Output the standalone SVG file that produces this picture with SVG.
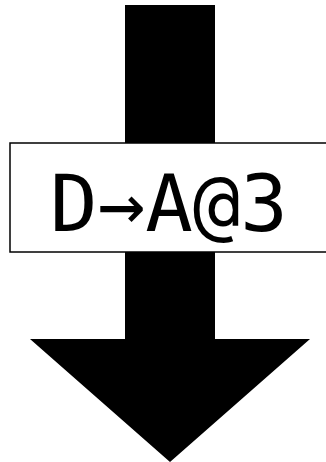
<svg xmlns="http://www.w3.org/2000/svg" width="326" height="462" viewBox="0 0 326 462">
<style>
.arrow{fill:#000;stroke:none}
.box{fill:#fff;stroke:#000;stroke-width:1.5}
.lbl{font-family:"DejaVu Sans Mono",monospace;font-size:79px;fill:#000}
</style>
<rect width="326" height="462" fill="#fff"/>
<g id="connectors">
<path class="arrow" d="M125,5 H215 V339 H310 L170,462 L30,339 H125 Z"/>
</g>
<g id="node-label">
<rect class="box" x="10" y="143" width="330" height="109"/>
<text class="lbl" x="169" y="231" text-anchor="middle">D→A@3</text>
</g>
</svg>
